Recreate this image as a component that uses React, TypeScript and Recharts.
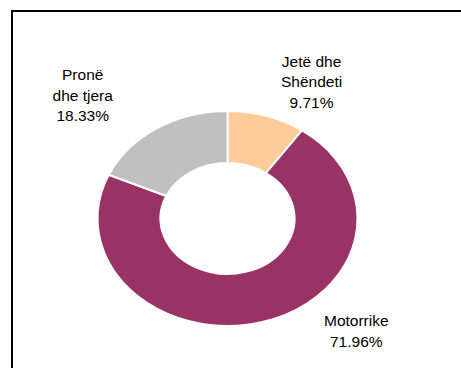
import React from 'react';
import { PieChart, Pie, Cell, Sector } from 'recharts';

// categories and shares (%), clockwise from 12 o'clock
const categories = ['Jetë dhe Shëndeti', 'Motorrike', 'Pronë dhe tjera'];
const shares = [9.71, 71.96, 18.33];
const labelLines = [['Jetë dhe', 'Shëndeti'], ['Motorrike'], ['Pronë', 'dhe tjera']];
const colors = ['#FFCC99', '#993366', '#C0C0C0'];

// layout
const W = 461;
const H = 368;
const CX = 227.5;
const CY = 218.5;
const SY = 0.827; // the donut is drawn as a flattened ellipse
const LINE_H = 20.5;
// label nudges away from the outer edge, per slice
const labelNudge = [
  [45, -34],
  [94, 9],
  [-74, -33],
];

const data = categories.map((name, i) => ({ name, value: shares[i], lines: labelLines[i] }));

const FlatSector = (props: any) => {
  const { cy } = props;
  return (
    <g transform={`translate(0 ${cy}) scale(1 ${SY}) translate(0 ${-cy})`}>
      <Sector {...props} vectorEffect="non-scaling-stroke" />
    </g>
  );
};

const renderLabel = ({ cx, cy, midAngle, outerRadius, index, payload }: any) => {
  const RADIAN = Math.PI / 180;
  const ex = cx + outerRadius * Math.cos(-midAngle * RADIAN);
  const ey = cy + outerRadius * Math.sin(-midAngle * RADIAN) * SY;
  const [dx, dy] = labelNudge[index];
  const x = ex + dx;
  const y = ey + dy;
  const lines: string[] = [...(payload.lines ?? labelLines[index]), `${shares[index].toFixed(2)}%`];
  const n = lines.length;
  return (
    <g>
      {lines.map((t, i) => (
        <text
          key={i}
          x={x}
          y={y + (i - (n - 1) / 2) * LINE_H}
          textAnchor="middle"
          dominantBaseline="central"
          fill="#000"
          fontSize={15.5}
          fontFamily="'Liberation Sans', Arial, sans-serif"
        >
          {t}
        </text>
      ))}
    </g>
  );
};

export default function App() {
  return (
    <div style={{ position: 'absolute', left: 0, top: 0, width: W, height: H, overflow: 'hidden', background: '#fff' }}>
      <div
        style={{
          position: 'absolute',
          left: 11,
          top: 10,
          width: W,
          height: H,
          borderLeft: '2px solid #000',
          borderTop: '2px solid #000',
        }}
      />
      <div style={{ position: 'absolute', left: 0, top: 0 }}>
        <PieChart width={W} height={H} margin={{ top: 0, right: 0, bottom: 0, left: 0 }}>
          <Pie
            data={data}
            dataKey="value"
            nameKey="name"
            cx={CX}
            cy={CY}
            innerRadius={67}
            outerRadius={130}
            startAngle={90}
            endAngle={-270}
            stroke="#fff"
            strokeWidth={2}
            labelLine={false}
            label={renderLabel}
            shape={FlatSector}
            isAnimationActive={false}
          >
            {data.map((d, i) => (
              <Cell key={d.name} fill={colors[i]} />
            ))}
          </Pie>
        </PieChart>
      </div>
    </div>
  );
}
